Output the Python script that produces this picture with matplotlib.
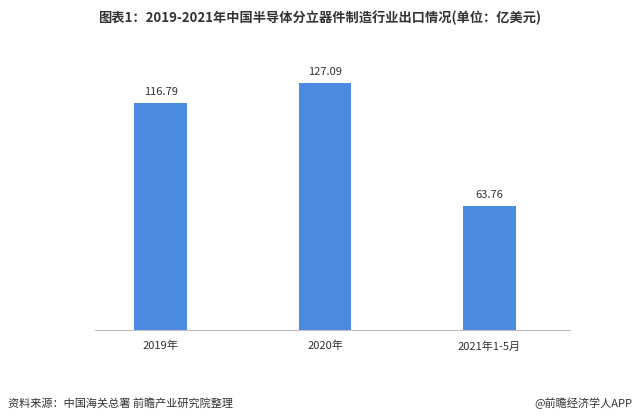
import matplotlib
matplotlib.use("Agg")
import matplotlib.pyplot as plt

plt.rcParams['font.family'] = ['Noto Sans CJK SC', 'DejaVu Sans']

categories = ["2019年", "2020年", "2021年1-5月"]
values = [116.79, 127.09, 63.76]

fig = plt.figure(figsize=(6.4, 4.2), dpi=100)
ax = fig.add_axes([95/640, 90/420, 475/640, 275/420])
x = range(len(categories))
ax.bar(x, values, width=0.32, color="#4a8ae0")
for i, v in zip(x, values):
    ax.text(i, v + 3, f"{v:.2f}", ha="center", va="bottom", fontsize=8, color="#333333")
ax.set_xlim(-0.4, 2.49)
ax.set_ylim(0, 141.5)
ax.set_xticks(list(x))
ax.set_xticklabels(categories, fontsize=8, color="#333333")
ax.tick_params(axis='x', length=0, pad=8)
ax.set_yticks([])
for s in ["top", "right", "left"]:
    ax.spines[s].set_visible(False)
ax.spines["bottom"].set_color("#bfbfbf")

fig.text(0.5, 1 - 18/420, "图表1：2019-2021年中国半导体分立器件制造行业出口情况(单位：亿美元)",
         ha="center", va="center", fontsize=9.5, fontweight="bold", color="#333333")
fig.text(8/640, 1 - 403/420, "资料来源：中国海关总署 前瞻产业研究院整理", ha="left", va="center",
         fontsize=8, color="#333333")
fig.text(632/640, 1 - 403/420, "@前瞻经济学人APP", ha="right", va="center",
         fontsize=8, color="#333333")
fig.savefig("out.png", dpi=100)
